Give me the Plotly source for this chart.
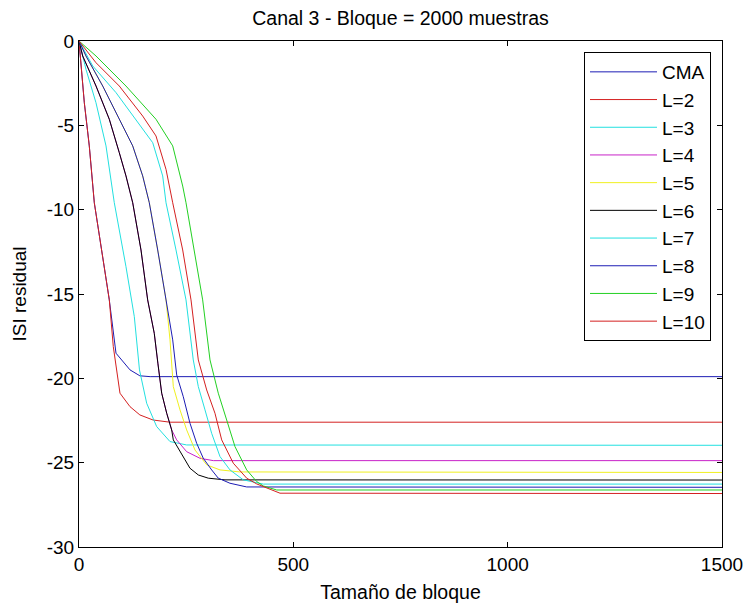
import plotly.graph_objects as go

# ---- data ----
names = ["CMA", "L=2", "L=3", "L=4", "L=5", "L=6", "L=7", "L=8", "L=9", "L=10"]
colors = ["#1c1cb4", "#d42020", "#22e0e0", "#c822c8", "#f0f020",
          "#000000", "#22e0e0", "#1c1cb4", "#22d022", "#d42020"]

cma_x = [0, 12.4, 24.0, 35.7, 70.7, 86.3, 119, 142, 166, 1500]
cma_y = [0, -3.66, -6.22, -9.59, -15.35, -18.51, -19.50, -19.85, -19.9, -19.9]

l2_x = [0, 12.4, 24.0, 35.7, 70.7, 80, 95.6, 119, 142, 172.6, 212, 1500]
l2_y = [0, -3.66, -6.22, -9.59, -15.35, -18.12, -20.88, -21.68, -22.17, -22.47, -22.6, -22.6]

l3_x = [0, 16.3, 39.6, 63, 82.3, 109.6, 129, 141.1, 157.9, 181.2, 212.3, 251.2, 1500]
l3_y = [0, -1.68, -3.66, -6.22, -9.58, -13.38, -16.34, -19.5, -21.48, -22.86, -23.75, -23.95, -23.97]

l4_x = [0, 8.6, 39.7, 70.7, 94, 109.6, 125.3, 144.6, 160.2, 175.6, 184, 192.9, 204.6, 216.2,
        227.9, 251.2, 282.2, 313.3, 1500]
l4_y = [0, -0.89, -2.67, -4.64, -6.62, -8.0, -9.59, -12.39, -15.35, -17.33, -19.1, -20.88, -22.07, -23.06,
        -23.65, -24.35, -24.74, -24.88, -24.88]

l5_x = [0, 16.3, 55.3, 94, 125.3, 148.6, 164, 183.6, 203, 212.3, 220, 235.6, 251.2, 270.6, 297.9,
        328.9, 375.5, 1500]
l5_y = [0, -0.89, -2.67, -4.64, -6.22, -8.0, -9.59, -12.39, -15.35, -17.72, -20.49, -21.87, -23.06, -24.25, -25.13,
        -25.43, -25.55, -25.58]

l6_x = [0, 8.6, 39.7, 70.7, 94, 109.6, 125.3, 144.6, 160.2, 175.6, 184, 192.9, 204.6, 216.2,
        220, 235.6, 247.3, 258.9, 278.3, 301.6, 340.6, 1500]
l6_y = [0, -0.89, -2.67, -4.64, -6.62, -8.0, -9.59, -12.39, -15.35, -17.33, -19.1, -20.88, -22.07, -23.06,
        -23.65, -24.35, -24.84, -25.33, -25.73, -25.92, -26.02, -26.03]

l7_x = [0, 32, 86.3, 133, 172, 195.2, 203, 226.3, 249.6, 266.6, 278.3, 293.9, 309.5, 328.9, 352.2,
        383.3, 430, 1500]
l7_y = [0, -1.48, -3.06, -4.64, -6.03, -8.0, -9.59, -12.39, -15.35, -18.91, -20.49, -21.87, -23.26, -24.64, -25.43,
        -26.02, -26.27, -26.27]

l8_x = [0, 16.3, 55.3, 94, 125.3, 148.6, 164, 183.6, 203, 218.6, 223.9, 227.9, 243.3, 258.9, 274.5,
        289.9, 309.5, 324.9, 352.2, 391.2, 1500]
l8_y = [0, -0.89, -2.67, -4.64, -6.22, -8.0, -9.59, -12.39, -15.35, -17.72, -18.91, -19.8, -21.09, -22.66, -23.85,
        -24.74, -25.43, -25.92, -26.22, -26.44, -26.46]

l9_x = [0, 39.7, 109.6, 179.6, 218.6, 241.9, 249.6, 268.9, 288.5, 305.6, 324.9, 344.5, 363.9, 391.2,
        414.5, 429.9, 461.2, 1500]
l9_y = [0, -0.89, -2.67, -4.64, -6.22, -8.6, -9.59, -12.39, -15.35, -18.91, -20.88, -22.47, -24.05, -25.43,
        -26.12, -26.38, -26.62, -26.62]

l10_x = [0, 39.7, 94, 148.6, 179.6, 203, 218.6, 241.9, 261.3, 278.3, 297.9, 317.2, 332.9, 359.9,
         391.2, 414.5, 468.9, 1500]
l10_y = [0, -1.29, -2.67, -4.45, -5.63, -7.61, -9.59, -12.39, -15.35, -18.91, -20.69, -22.07, -23.65, -25.03,
         -25.92, -26.26, -26.81, -26.83]

xs = [cma_x, l2_x, l3_x, l4_x, l5_x, l6_x, l7_x, l8_x, l9_x, l10_x]
ys = [cma_y, l2_y, l3_y, l4_y, l5_y, l6_y, l7_y, l8_y, l9_y, l10_y]

x_ticks = [0, 500, 1000, 1500]
x_ticktext = ["0", "500", "1000", "1500"]
y_ticks = [0, -5, -10, -15, -20, -25, -30]
y_ticktext = ["0", "-5", "-10", "-15", "-20", "-25", "-30"]

title_text = "Canal 3 - Bloque = 2000 muestras"
x_title = "Tamaño de bloque"
y_title = "ISI residual"

# ---- figure ----
FONT = "Liberation Sans, Arial, sans-serif"
W, H = 744, 603
ML, MR, MT, MB = 79, 22, 41, 56

fig = go.Figure()
for name, color, x, y in zip(names, colors, xs, ys):
    fig.add_trace(go.Scatter(x=x, y=y, mode="lines", name=name,
                             line=dict(color=color, width=1)))

axis_common = dict(showline=True, linecolor="black", linewidth=1, mirror="ticks",
                   ticks="inside", ticklen=5, tickcolor="black", tickwidth=1,
                   showgrid=False, zeroline=False, automargin=False,
                   tickfont=dict(family=FONT, size=19, color="black"),
                   fixedrange=True)

fig.update_layout(
    width=W, height=H, autosize=False,
    margin=dict(l=ML, r=MR, t=MT, b=MB, pad=0, autoexpand=False),
    paper_bgcolor="white", plot_bgcolor="white",
    font=dict(family=FONT, size=19, color="black"),
    title=dict(text=title_text, x=0.5, xref="paper", xanchor="center",
               y=1 - 18 / H, yref="container", yanchor="middle",
               font=dict(family=FONT, size=19.5, color="black")),
    xaxis=dict(range=[0, 1500], tickvals=x_ticks, ticktext=x_ticktext,
               title=dict(text=x_title, standoff=11,
                          font=dict(family=FONT, size=19.5, color="black")),
               **axis_common),
    yaxis=dict(range=[-30, 0], tickvals=y_ticks, ticktext=y_ticktext,
               title=dict(text=y_title, standoff=15,
                          font=dict(family=FONT, size=19, color="black")),
               **axis_common),
    legend=dict(x=(584 - ML) / (W - ML - MR), y=1 - (52 - MT) / (H - MT - MB),
                xanchor="left", yanchor="top",
                bgcolor="white", bordercolor="black", borderwidth=1,
                font=dict(family=FONT, size=19, color="black"),
                itemwidth=67, tracegroupgap=0),
    showlegend=True,
)

# keep the figure at its exact size, top-left of the page, without scrollbars
fig.write_html(
    "out.html",
    config={"responsive": False, "displayModeBar": False},
    post_script="document.body.style.margin='0';document.body.style.overflow='hidden';",
)
